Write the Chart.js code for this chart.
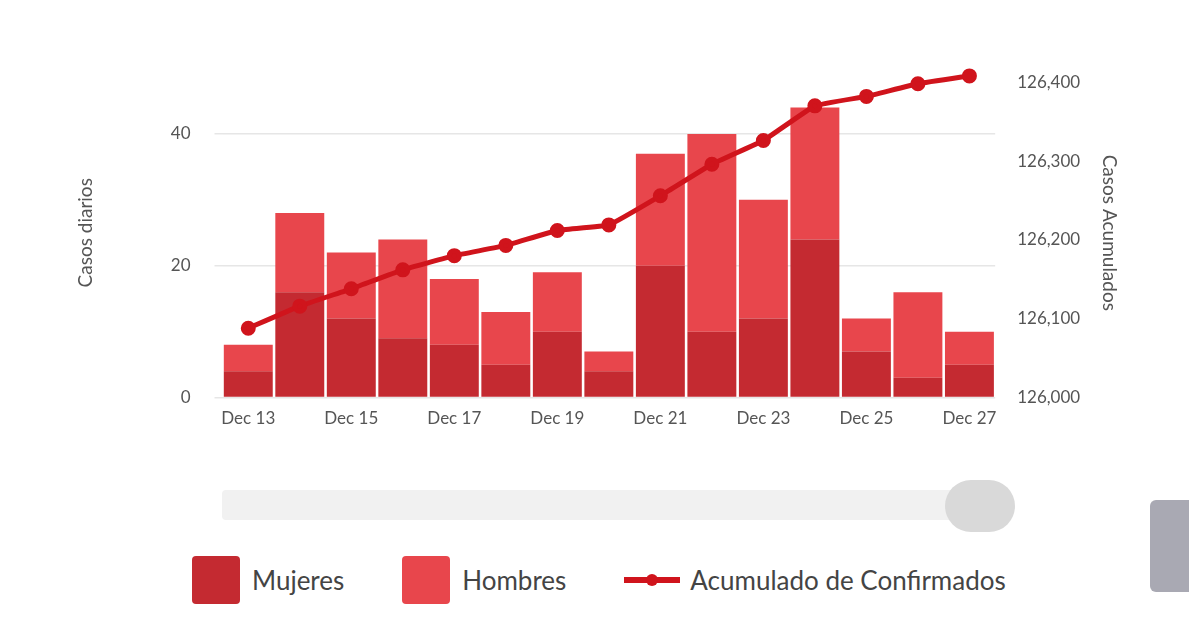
<!DOCTYPE html>
<html lang="es">
<head>
<meta charset="UTF-8">
<title>Casos diarios</title>
<script src="https://cdn.jsdelivr.net/npm/chart.js"></script>
<style>
  body { margin: 0; background: #fff; font-family: Lato, sans-serif; }
  #wrap { position: absolute; left: 0; top: 0; width: 1189px; height: 470px; }
  #slider { position: absolute; left: 222px; top: 490px; width: 770px; height: 30px; background: #f1f1f1; border-radius: 4px; }
  #knob { position: absolute; left: 945px; top: 480px; width: 70px; height: 52px; border-radius: 26px; background: #d9d9d9; }
  #legend { position: absolute; left: 192px; top: 556px; display: flex; align-items: center; font-size: 26px; color: #444; }
  .item { display: flex; align-items: center; margin-right: 58px; }
  .box { width: 48px; height: 48px; border-radius: 4px; margin-right: 12px; }
  .ln { width: 56px; height: 6px; background: #d0141c; margin-right: 10px; position: relative; }
  .ln::after { content: ''; position: absolute; left: 22px; top: -3px; width: 12px; height: 12px; border-radius: 6px; background: #d0141c; }
  #tab { position: absolute; left: 1150px; top: 500px; width: 39px; height: 92px; background: #a9a9b3; border-radius: 6px 0 0 6px; }
</style>
</head>
<body>
<div id="wrap"><canvas id="chart"></canvas></div>
<div id="slider"></div>
<div id="knob"></div>
<div id="tab"></div>
<div id="legend">
  <div class="item"><div class="box" style="background:#c42a31"></div>Mujeres</div>
  <div class="item"><div class="box" style="background:#e8464c"></div>Hombres</div>
  <div class="item"><div class="ln"></div>Acumulado de Confirmados</div>
</div>
<script>
const labels = ['Dec 13','Dec 14','Dec 15','Dec 16','Dec 17','Dec 18','Dec 19','Dec 20','Dec 21','Dec 22','Dec 23','Dec 24','Dec 25','Dec 26','Dec 27'];
const mujeres = [4, 16, 12, 9, 8, 5, 10, 4, 20, 10, 12, 24, 7, 3, 5];
const hombres = [4, 12, 10, 15, 10, 8, 9, 3, 17, 30, 18, 20, 5, 13, 5];
const acumulado = [126088, 126116, 126138, 126162, 126180, 126193, 126212, 126219, 126256, 126296, 126326, 126370, 126382, 126398, 126408];
const leftTicks = [0, 20, 40];
const rightTicks = [126000, 126100, 126200, 126300, 126400];

const tickFont = { family: 'Lato', size: 17 };
new Chart(document.getElementById('chart'), {
  data: {
    labels: labels,
    datasets: [
      { type: 'line', label: 'Acumulado de Confirmados', data: acumulado, yAxisID: 'y2',
        borderColor: '#d0141c', backgroundColor: '#d0141c', borderWidth: 5,
        pointRadius: 5, tension: 0.1, order: 0 },
      { type: 'bar', label: 'Mujeres', data: mujeres, backgroundColor: '#c42a31', stack: 's', order: 1,
        barPercentage: 1, categoryPercentage: 0.95 },
      { type: 'bar', label: 'Hombres', data: hombres, backgroundColor: '#e8464c', stack: 's', order: 1,
        barPercentage: 1, categoryPercentage: 0.95 }
    ]
  },
  options: {
    responsive: true,
    maintainAspectRatio: false,
    animation: false,
    layout: { padding: { left: 70, right: 32, top: 68, bottom: 38 } },
    plugins: { legend: { display: false }, tooltip: { enabled: false } },
    scales: {
      x: { stacked: true, grid: { display: false }, border: { display: false },
        ticks: { color: '#555', font: tickFont, maxRotation: 0, autoSkip: false,
          callback: (v, i) => i % 2 === 0 ? labels[i] : '' } },
      y: { stacked: true, min: 0, max: 50, position: 'left',
        border: { display: false },
        grid: { color: '#e6e6e6', lineWidth: 1.5 },
        afterBuildTicks: s => { s.ticks = leftTicks.map(v => ({ value: v })); },
        ticks: { color: '#555', font: tickFont, padding: 24 },
        title: { display: true, text: 'Casos diarios', color: '#555', font: { family: 'Lato', size: 19 }, padding: { bottom: 50 } } },
      y2: { min: 126000, max: 126418, position: 'right',
        border: { display: false }, grid: { display: false },
        afterBuildTicks: s => { s.ticks = rightTicks.map(v => ({ value: v })); },
        ticks: { color: '#555', font: tickFont, padding: 14,
          callback: v => v.toLocaleString('en-US') },
        title: { display: true, text: 'Casos Acumulados', color: '#555', font: { family: 'Lato', size: 19 }, padding: { top: 36 } } }
    }
  }
});
</script>
</body>
</html>
